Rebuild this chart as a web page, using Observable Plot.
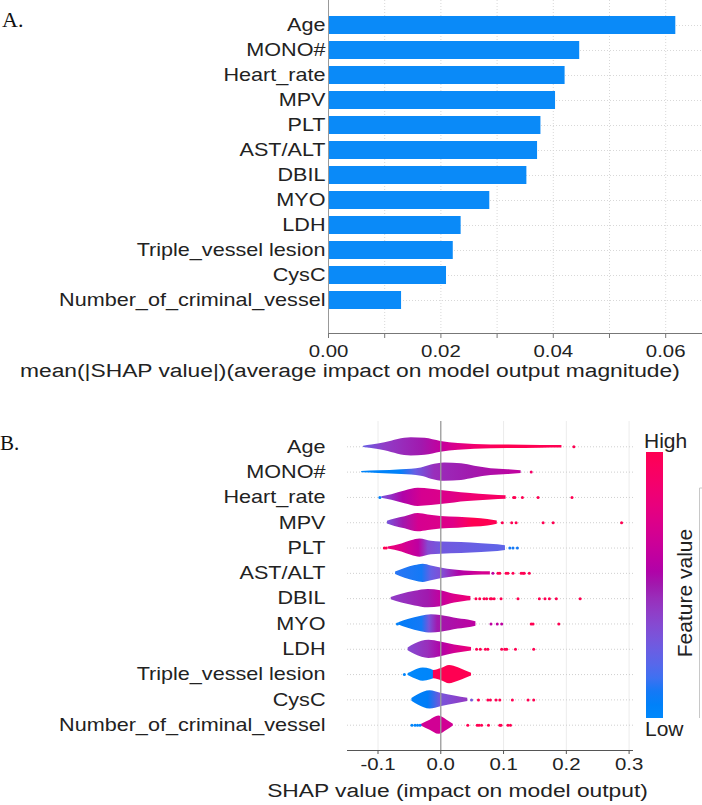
<!DOCTYPE html>
<html><head><meta charset="utf-8">
<script src="https://cdn.jsdelivr.net/npm/d3@7"></script>
<script src="https://cdn.jsdelivr.net/npm/@observablehq/plot@0.6"></script>
<style>
body{margin:0;background:#fff;font-family:"Liberation Sans",Arial,sans-serif;}
#root{width:702px;}
#root svg{display:block;}
</style></head><body><div id="root"></div>
<script>
// ---------- data ----------
const features = ["Age","MONO#","Heart_rate","MPV","PLT","AST/ALT","DBIL","MYO","LDH","Triple_vessel lesion","CysC","Number_of_criminal_vessel"];
const meanAbsShap = [0.0618,0.0447,0.0421,0.0404,0.0378,0.0372,0.0353,0.0287,0.0236,0.0222,0.0210,0.0130];
const barTicks = [0,0.01,0.02,0.03,0.04,0.05,0.06];
const barTickLabels = ["0.00","","0.02","","0.04","","0.06"];
const shapTicks = [-0.1,0,0.1,0.2,0.3];
const shapTickLabels = ["-0.1","0.0","0.1","0.2","0.3"];
const titleA = "mean(|SHAP value|)(average impact on model output magnitude)";
const titleB = "SHAP value (impact on model output)";
const legendLabels = ["High","Low","Feature value"];

// violin outline per feature: [SHAP value, relative density]
const violinOutline = [
 [[-0.123,0.07],[-0.110,0.19],[-0.089,0.44],[-0.068,0.81],[-0.047,1.0],[-0.025,0.93],[0,0.59],[0.028,0.37],[0.054,0.26],[0.107,0.19],[0.160,0.15],[0.193,0.13]],
 [[-0.126,0.08],[-0.099,0.15],[-0.062,0.27],[-0.031,0.46],[-0.015,0.77],[0.006,1.0],[0.033,0.92],[0.054,0.65],[0.080,0.38],[0.107,0.27],[0.128,0.15]],
 [[-0.094,0.08],[-0.078,0.3],[-0.057,0.7],[-0.036,1.0],[-0.015,0.9],[0,0.77],[0.022,0.6],[0.043,0.46],[0.080,0.27],[0.104,0.19]],
 [[-0.085,0.15],[-0.073,0.4],[-0.057,0.65],[-0.036,1.0],[-0.020,0.85],[0,0.68],[0.028,0.6],[0.054,0.48],[0.075,0.36],[0.090,0.18]],
 [[-0.084,0.11],[-0.062,0.44],[-0.047,0.8],[-0.033,1.0],[-0.015,0.75],[0,0.67],[0.033,0.6],[0.065,0.48],[0.091,0.37],[0.103,0.26]],
 [[-0.072,0.14],[-0.057,0.54],[-0.041,0.85],[-0.028,1.0],[-0.015,0.82],[0,0.6],[0.022,0.36],[0.054,0.21],[0.079,0.18]],
 [[-0.079,0.12],[-0.062,0.48],[-0.041,0.8],[-0.020,1.0],[0,0.88],[0.022,0.48],[0.038,0.32],[0.048,0.24]],
 [[-0.067,0.12],[-0.052,0.48],[-0.031,0.85],[-0.015,1.0],[0,0.92],[0.028,0.56],[0.049,0.36],[0.056,0.24]],
 [[-0.052,0.15],[-0.041,0.58],[-0.019,1.0],[0,0.81],[0.022,0.46],[0.038,0.3],[0.049,0.19]],
 [[-0.052,0.11],[-0.044,0.37],[-0.028,0.72],[-0.016,0.58],[-0.011,0.46],[0.001,0.67],[0.014,1.0],[0.028,0.74],[0.041,0.37],[0.049,0.15]],
 [[-0.046,0.15],[-0.036,0.55],[-0.017,1.0],[0,0.74],[0.022,0.44],[0.043,0.18]],
 [[-0.031,0.08],[-0.017,0.55],[-0.003,1.0],[0.010,0.55],[0.020,0.1]]
];
// feature-value colour along each violin: [SHAP value, feature value 0=low..1=high]
const violinColor = [
 [[-0.123,0.25],[-0.09,0.4],[-0.03,0.5],[0,0.62],[0.03,0.75],[0.06,0.9],[0.1,1],[0.193,1]],
 [[-0.126,0.03],[-0.065,0.05],[-0.04,0.25],[-0.01,0.45],[0.05,0.5],[0.128,0.62]],
 [[-0.094,0.3],[-0.06,0.55],[-0.03,0.7],[0.02,0.75],[0.05,0.85],[0.104,0.95]],
 [[-0.085,0.3],[-0.06,0.5],[-0.035,0.7],[0.02,0.75],[0.04,0.9],[0.05,1],[0.09,1]],
 [[-0.084,0.85],[-0.06,0.72],[-0.035,0.6],[-0.02,0.35],[0,0.28],[0.103,0.22]],
 [[-0.072,0.12],[-0.03,0.1],[-0.015,0.25],[0.005,0.35],[0.03,0.55],[0.06,0.68],[0.079,0.72]],
 [[-0.079,0.4],[-0.02,0.5],[0,0.62],[0.025,0.75],[0.048,0.85]],
 [[-0.067,0.08],[-0.03,0.1],[-0.018,0.3],[-0.005,0.5],[0.056,0.6]],
 [[-0.052,0.35],[-0.02,0.45],[0,0.55],[0.025,0.7],[0.049,0.85]],
 [[-0.052,0.0],[-0.0125,0.02],[-0.0115,1],[0.049,1]],
 [[-0.046,0.05],[-0.02,0.08],[0,0.3],[0.043,0.42]],
 [[-0.031,0.68],[0.020,0.68]]
];
// outlier dots per feature: [SHAP value, feature value]
const outlierDots = [
 [[0.212,1]],
 [[0.144,0.9]],
 [[-0.097,0.05],[0.116,1],[0.118,1],[0.13,1],[0.155,1],[0.209,1]],
 [[0.098,1],[0.113,1],[0.12,1],[0.163,1],[0.179,1],[0.288,1]],
 [[-0.09,1],[-0.087,1],[0.11,0.1],[0.115,0.1],[0.122,0.1]],
 [[0.083,0.6],[0.091,1],[0.094,1],[0.104,1],[0.107,1],[0.115,1],[0.128,1],[0.131,1],[0.133,1],[0.141,1]],
 [[0.056,1],[0.062,1],[0.069,1],[0.073,1],[0.079,1],[0.081,1],[0.085,1],[0.096,1],[0.123,1],[0.157,1],[0.166,1],[0.173,1],[0.184,1],[0.222,1]],
 [[-0.069,0.05],[0.08,0.6],[0.09,0.6],[0.097,0.6],[0.144,1],[0.147,1],[0.188,1]],
 [[0.057,1],[0.063,1],[0.071,1],[0.075,1],[0.097,1],[0.102,1],[0.105,1],[0.119,1],[0.148,1]],
 [[-0.058,0.02]],
 [[0.049,0.3],[0.06,1],[0.075,1],[0.079,1],[0.088,1],[0.094,1],[0.114,1],[0.139,1],[0.148,1]],
 [[-0.046,0.02],[-0.041,0.02],[-0.037,0.02],[-0.033,0.02],[0.043,1],[0.058,1],[0.061,1],[0.065,1],[0.076,1],[0.094,1],[0.096,1],[0.107,1],[0.111,1]]
];

// ---------- SHAP red_blue colour map (Lch, blue -> dark purple -> red) ----------
function shapRedBlue(t){
  t = Math.max(0, Math.min(1, +t));
  const h = 266.93 + t*(380.32-266.93);
  const c = 70 + 20*t;
  const l = t < 0.5 ? 54 - 28*t : 40 + 28*(t-0.5);
  return d3.rgb(d3.hcl(h % 360, c, l)).formatHex();
}

const TEXT = "#222";
const SX = 1.2; // horizontal stretch of the typeface in the source image

// widen tick labels horizontally, keeping their em-based vertical offsets
function stretchTexts(svg, sx){
  svg.querySelectorAll("text").forEach(el => {
    const xa = el.getAttribute("x");
    let pre = "";
    if (xa !== null && /^-?[\d.]+$/.test(xa.trim())) {
      pre = ` translate(${+xa},0)`;
      el.removeAttribute("x");
    }
    const t = el.getAttribute("transform") || "";
    el.setAttribute("transform", `${t}${pre} scale(${sx},1)`);
  });
}

// gradient defs shared by the page
const defsSvg = d3.select("body").append("svg").attr("width",0).attr("height",0)
  .style("position","absolute").style("left","0").style("top","0");
const defs = defsSvg.append("defs");
violinColor.forEach((stops, i) => {
  const xs = violinOutline[i].map(d => d[0]);
  const x0 = xs[0], x1 = xs[xs.length-1];
  const g = defs.append("linearGradient").attr("id", `vg${i}`)
    .attr("x1","0").attr("x2","1").attr("y1","0").attr("y2","0");
  stops.forEach(([s,c]) => g.append("stop")
    .attr("offset", Math.max(0, Math.min(1, (s-x0)/(x1-x0))))
    .attr("stop-color", shapRedBlue(c)));
});
const cb = defs.append("linearGradient").attr("id","cbar")
  .attr("x1","0").attr("x2","0").attr("y1","1").attr("y2","0");
d3.range(0, 1.0001, 0.05).forEach(t => cb.append("stop").attr("offset", t).attr("stop-color", shapRedBlue(t)));

// ---------- Panel A ----------
const barData = features.map((f,i) => ({f, v: meanAbsShap[i]}));
const chartA = Plot.plot({
  width: 702, height: 392,
  marginTop: 0, marginBottom: 59, marginLeft: 328, marginRight: 0,
  style: {fontFamily: '"Liberation Sans", Arial, sans-serif', color: TEXT, background: "#fff", overflow: "visible"},
  x: {domain: [0, 0.06655]},
  y: {domain: features, paddingInner: 0.3, paddingOuter: 0.603, align: 0.407},
  marks: [
    Plot.ruleX(barTicks.slice(1), {stroke: "#d8d8d8", strokeDasharray: "1,2"}),
    Plot.ruleY(features, {stroke: "#d8d8d8", strokeDasharray: "1,2"}),
    Plot.barX(barData, {x: "v", y: "f", fill: "#0a8af8"}),
    Plot.ruleX([0], {stroke: "#999"}),
    Plot.frame({anchor: "bottom", stroke: "#777"}),
    Plot.axisY({tickSize: 0, tickPadding: 3, fontSize: 18, label: null}),
    Plot.axisX(barTicks, {tickSize: 5, tickPadding: 6, fontSize: 17, stroke: "#777", label: null,
      tickFormat: d => barTickLabels[barTicks.indexOf(d)]})
  ]
});
stretchTexts(chartA, SX);
{
  const s = d3.select(chartA);
  s.append("text").attr("x", 2).attr("y", 27).attr("fill", "#111").attr("text-anchor", "start")
    .style("font-family", '"Liberation Serif", "Times New Roman", serif').style("font-size", "22px").text("A.");
  s.append("text").attr("transform", `translate(20,377) scale(${SX},1)`).attr("fill", TEXT)
    .attr("text-anchor", "start").style("font-size", "19px").text(titleA);
}

// ---------- Panel B ----------
const rows = d3.range(features.length);
const VW = 0.36;
const violinMarks = violinOutline.map((pts, i) => Plot.areaY(pts, {
  x: d => d[0], y1: d => i - d[1]*VW, y2: d => i + d[1]*VW,
  curve: "monotone-x", fill: `url(#vg${i})`
}));
const dots = outlierDots.flatMap((arr, i) => arr.map(([s,c]) => ({s, c, row: i})));
const chartB = Plot.plot({
  width: 702, height: 413,
  marginTop: 29, marginBottom: 55, marginLeft: 347, marginRight: 69,
  style: {fontFamily: '"Liberation Sans", Arial, sans-serif', color: TEXT, background: "#fff", overflow: "visible"},
  x: {domain: [-0.1486, 0.307]},
  y: {domain: [features.length, -1]},
  color: {type: "linear", domain: [0, 1], interpolate: shapRedBlue},
  marks: [
    Plot.ruleX(shapTicks.filter(d => d !== 0), {stroke: "#ececec"}),
    Plot.ruleY(rows, {stroke: "#cfcfcf", strokeDasharray: "1,2"}),
    ...violinMarks,
    Plot.ruleX([0], {stroke: "#999", strokeWidth: 1.3}),
    Plot.dot(dots, {x: "s", y: "row", r: 1.5, fill: "c", stroke: null}),
    Plot.ruleY([features.length], {stroke: "#555"}),
    Plot.axisY(rows, {tickSize: 0, tickPadding: 22, fontSize: 18, label: null,
      tickFormat: i => features[i]}),
    Plot.axisX(shapTicks, {tickSize: 4, tickPadding: 3, fontSize: 17, stroke: "#555", label: null,
      tickFormat: d => shapTickLabels[shapTicks.indexOf(d)]})
  ]
});
stretchTexts(chartB, SX);
{
  const s = d3.select(chartB);
  s.append("text").attr("x", 0).attr("y", 58).attr("fill", "#111").attr("text-anchor", "start")
    .style("font-family", '"Liberation Serif", "Times New Roman", serif').style("font-size", "21px").text("B.");
  s.append("text").attr("transform", `translate(457.5,404.5) scale(${SX},1)`).attr("text-anchor", "middle")
    .attr("fill", TEXT).style("font-size", "19px").text(titleB);
  // colour bar legend
  const lg = s.append("g");
  lg.append("rect").attr("x", 646).attr("y", 60).attr("width", 17).attr("height", 266).attr("fill", "url(#cbar)");
  lg.append("text").attr("x", 644).attr("y", 56).attr("fill", TEXT).attr("text-anchor", "start")
    .style("font-size", "21px").text(legendLabels[0]);
  lg.append("text").attr("x", 645).attr("y", 344).attr("fill", TEXT).attr("text-anchor", "start")
    .style("font-size", "21px").text(legendLabels[1]);
  lg.append("text").attr("transform", "translate(691.5,201) rotate(-90)").attr("text-anchor", "middle")
    .attr("fill", TEXT).style("font-size", "21px").text(legendLabels[2]);
  lg.append("path").attr("d", "M702,96H699.5V326").attr("fill", "none").attr("stroke", "#c8c8c8");
}

const root = document.getElementById("root");
root.appendChild(chartA);
root.appendChild(chartB);
</script>
</body></html>
